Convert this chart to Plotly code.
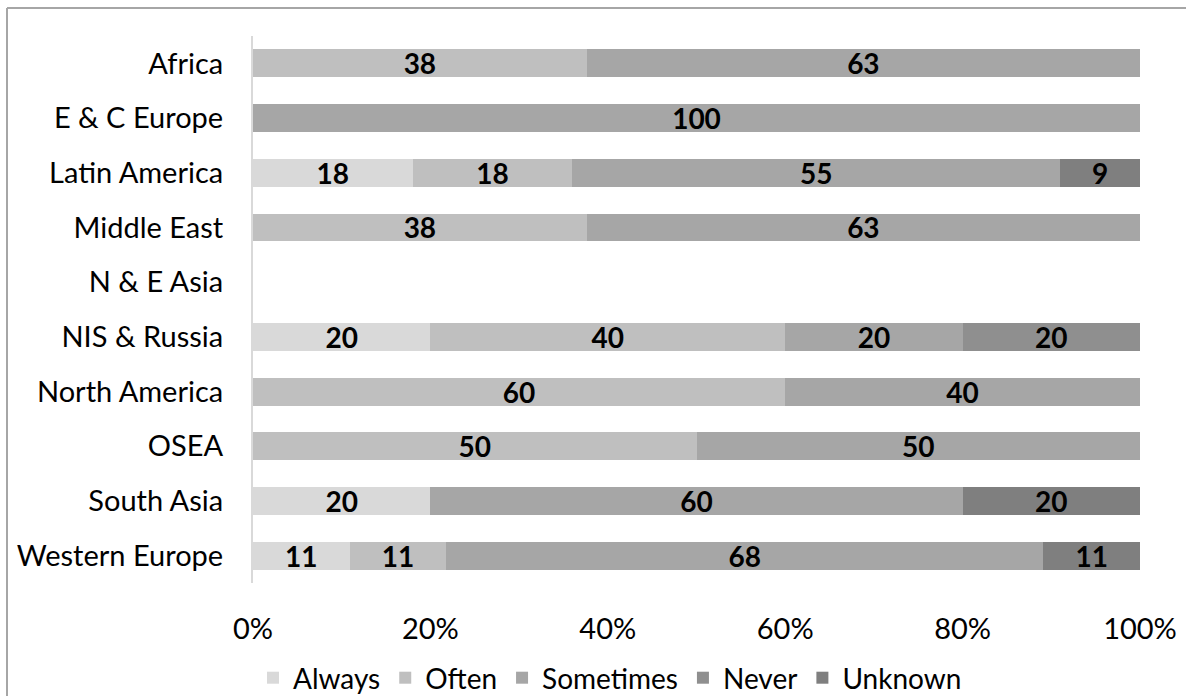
import plotly.graph_objects as go

# Regions, listed top to bottom as they appear on the chart
regions = ["Africa", "E & C Europe", "Latin America", "Middle East", "N & E Asia",
           "NIS & Russia", "North America", "OSEA", "South Asia", "Western Europe"]

# Share of responses per region (percent); None where a category is absent
always    = [None, None, 18, None, None, 20, None, None, 20, 11]
often     = [38, None, 18, 38, None, 40, 60, 50, None, 11]
sometimes = [63, 100, 55, 63, None, 20, 40, 50, 60, 68]
never     = [None, None, None, None, None, 20, None, None, None, None]
unknown   = [None, None, 9, None, None, None, None, None, 20, 11]

series = [
    ("Always", always, "#d9d9d9"),
    ("Often", often, "#bfbfbf"),
    ("Sometimes", sometimes, "#a6a6a6"),
    ("Never", never, "#8f8f8f"),
    ("Unknown", unknown, "#7f7f7f"),
]

FONT = "Lato"

fig = go.Figure()
for name, vals, color in series:
    fig.add_trace(go.Bar(
        name=name,
        y=regions,
        x=vals,
        orientation="h",
        marker=dict(color=color, line=dict(width=0)),
        text=[("" if v is None else str(v)) for v in vals],
        textposition="inside",
        insidetextanchor="middle",
        textangle=0,
        constraintext="none",
        textfont=dict(family=FONT, size=28, color="black", weight="bold"),
        hoverinfo="skip",
    ))

W, H = 1186, 696
ml, mr, mt, mb = 253, 46, 36, 113
pw, ph = W - ml - mr, H - mt - mb

def px_x(p):
    return (p - ml) / pw

def px_y(p):
    return 1 - (p - mt) / ph

fig.update_layout(
    width=W, height=H,
    barmode="stack",
    barnorm="percent",
    bargap=0.49,
    margin=dict(l=ml, r=mr, t=mt, b=mb, pad=0, autoexpand=False),
    paper_bgcolor="white",
    plot_bgcolor="white",
    font=dict(family=FONT, size=29, color="black"),
    xaxis=dict(
        range=[0, 100],
        tickvals=[0, 20, 40, 60, 80, 100],
        ticktext=["0%", "20%", "40%", "60%", "80%", "100%"],
        showgrid=False, zeroline=False, showline=False,
        ticks="", ticklabelstandoff=26,
        tickfont=dict(family=FONT, size=29),
        automargin=False,
        fixedrange=True,
    ),
    yaxis=dict(
        autorange="reversed",
        showgrid=False, zeroline=False,
        showline=True, linecolor="#d9d9d9", linewidth=2,
        ticks="", ticklabelstandoff=22,
        tickfont=dict(family=FONT, size=29),
        automargin=False,
        fixedrange=True,
    ),
    legend=dict(
        orientation="h",
        x=px_x(610), xanchor="center",
        y=px_y(678), yanchor="middle",
        font=dict(family=FONT, size=28),
        bgcolor="rgba(0,0,0,0)",
        traceorder="normal",
        itemwidth=30,
    ),
    shapes=[
        dict(type="line", xref="paper", yref="paper",
             x0=px_x(7), x1=px_x(1300), y0=px_y(8), y1=px_y(8),
             line=dict(color="#a6a6a6", width=2)),
        dict(type="line", xref="paper", yref="paper",
             x0=px_x(7), x1=px_x(7), y0=px_y(8), y1=px_y(800),
             line=dict(color="#a6a6a6", width=2)),
    ],
)

fig.write_html("out.html", config={"displayModeBar": False})
